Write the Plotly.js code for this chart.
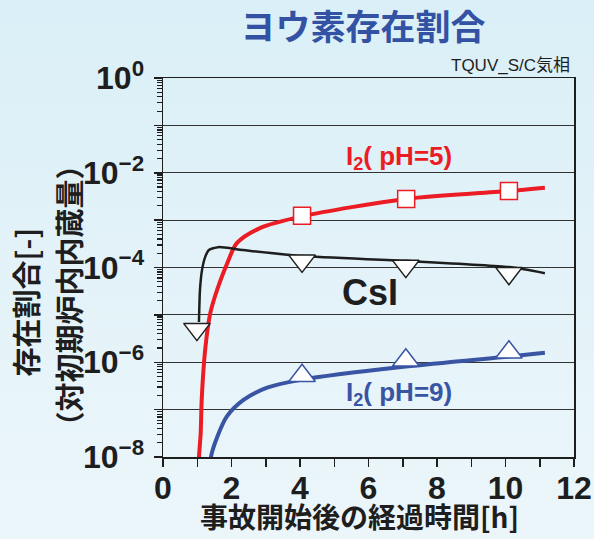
<!DOCTYPE html>
<html>
<head>
<meta charset="utf-8">
<script src="https://cdn.plot.ly/plotly-3.0.1.min.js"></script>
<style>
html,body{margin:0;padding:0;}
body{width:594px;height:539px;background:linear-gradient(#daeff7,#ecf6fa);}
#chart{width:594px;height:539px;}
</style>
</head>
<body>
<div id="chart"></div>
<script>
// ---- data ----
const i2ph5X = [1.03, 1.05, 1.10, 1.13, 1.23, 1.37, 1.46, 1.61, 1.87, 2.16, 2.83, 4.06, 7.1, 10.1, 11.15];
const i2ph5Y = [5e-9, 1.0e-8, 3.2e-8, 1.6e-7, 1.8e-6, 1.0e-5, 1.8e-5, 3.9e-5, 1.2e-4, 3.3e-4, 6.8e-4, 1.2e-3, 2.8e-3, 4.1e-3, 4.8e-3];
const i2ph5MarkX = [4.06, 7.1, 10.1];
const i2ph5MarkY = [1.23e-3, 2.8e-3, 4.1e-3];

const csiX = [1.05, 1.08, 1.14, 1.23, 1.34, 1.61, 2.34, 4.06, 7.09, 10.1, 11.15];
const csiY = [7.1e-6, 3.4e-5, 8.9e-5, 1.66e-4, 2.34e-4, 2.69e-4, 2.34e-4, 1.74e-4, 1.38e-4, 1.02e-4, 7.6e-5];
const csiMarkX = [0.99, 4.06, 7.09, 10.1];
const csiMarkY = [5.0e-6, 1.38e-4, 1.07e-4, 7.6e-5];

const i2ph9X = [1.38, 1.40, 1.58, 1.86, 2.34, 3.04, 4.06, 7.09, 10.1, 11.15];
const i2ph9Y = [5e-9, 1.0e-8, 2.6e-8, 7.1e-8, 1.58e-7, 2.9e-7, 4.3e-7, 8.1e-7, 1.32e-6, 1.58e-6];
const i2ph9MarkX = [4.06, 7.09, 10.1];
const i2ph9MarkY = [5.2e-7, 1.10e-6, 1.62e-6];

const yTickVals = [1e-8, 1e-6, 1e-4, 1e-2, 1e0];
const yTickText = ['10<sup>−8</sup>', '10<sup>−6</sup>', '10<sup>−4</sup>', '10<sup>−2</sup>', '10<sup>0</sup>'];
const yOddDecades = [1e-7, 1e-5, 1e-3, 1e-1];
const xTickVals = [0, 2, 4, 6, 8, 10, 12];

const titleText = 'ヨウ素存在割合';
const subTitleText = 'TQUV_S/C気相';
const xTitleText = '事故開始後の経過時間[h]';
const yTitleLine1 = '存在割合[-]';
const yTitleLine2 = '（対初期炉内内蔵量）';
const labelPh5 = 'I<sub>2</sub>( pH=5)';
const labelCsI = 'CsI';
const labelPh9 = 'I<sub>2</sub>( pH=9)';

// ---- styling ----
const NUM_FONT = '"Liberation Sans", Arial, sans-serif';
const JP_FONT = '"Noto Sans CJK JP", "Noto Sans", sans-serif';
const RED = '#ec1c24';
const BLUE = '#3a54a4';
const BLACK = '#1e1e1e';
const GRID = '#333333';

const traces = [
  {x: i2ph5X, y: i2ph5Y, mode: 'lines', line: {color: RED, width: 4, shape: 'spline', smoothing: 0.8}, hoverinfo: 'skip'},
  {x: i2ph9X, y: i2ph9Y, mode: 'lines', line: {color: BLUE, width: 4, shape: 'spline', smoothing: 0.8}, hoverinfo: 'skip'},
  {x: csiX, y: csiY, mode: 'lines', line: {color: BLACK, width: 2.5, shape: 'spline', smoothing: 0.6}, hoverinfo: 'skip'},
  {x: i2ph5MarkX, y: i2ph5MarkY, mode: 'markers', marker: {symbol: 'square', size: 17, color: 'white', line: {color: RED, width: 1.5}}},
  {x: i2ph9MarkX, y: i2ph9MarkY, mode: 'markers', marker: {symbol: 'triangle-up', size: 23, color: 'white', line: {color: BLUE, width: 1.5}}},
  {x: csiMarkX, y: csiMarkY, yaxis: 'y2', mode: 'markers', marker: {symbol: 'triangle-down', size: 23, color: 'white', line: {color: BLACK, width: 1.5}}}
];

const layout = {
  width: 594, height: 539,
  margin: {l: 163, r: 20, t: 78, b: 82},
  paper_bgcolor: 'rgba(0,0,0,0)',
  plot_bgcolor: 'rgba(0,0,0,0)',
  showlegend: false,
  title: {text: titleText, x: 0.611, xanchor: 'center', y: 0.948, yanchor: 'middle',
          font: {family: JP_FONT, size: 35, color: '#3352a3', weight: 'bold'}},
  xaxis: {
    range: [0, 12], tickmode: 'array', tickvals: xTickVals,
    ticks: 'outside', ticklen: 8, tickwidth: 1.5, tickcolor: BLACK, ticklabelstandoff: -6,
    minor: {dtick: 1, ticks: 'outside', ticklen: 8, tickwidth: 1.5, tickcolor: BLACK, showgrid: false},
    showline: true, linecolor: BLACK, linewidth: 1.5, mirror: true,
    showgrid: false, zeroline: false,
    tickfont: {family: NUM_FONT, size: 32, color: BLACK, weight: 'bold'}
  },
  yaxis: {
    type: 'log', range: [-8, 0], tickmode: 'array', tickvals: yTickVals, ticktext: yTickText,
    ticks: 'outside', ticklen: 8, tickwidth: 1.5, tickcolor: BLACK, ticklabelstandoff: 3,
    minor: {dtick: 'D1', ticks: 'outside', ticklen: 5, tickwidth: 1.2, tickcolor: BLACK, showgrid: false},
    showline: true, linecolor: BLACK, linewidth: 1.5, mirror: true,
    showgrid: true, gridcolor: GRID, gridwidth: 1, zeroline: false,
    tickfont: {family: NUM_FONT, size: 32, color: BLACK, weight: 'bold'}
  },
  yaxis2: {
    type: 'log', range: [-8, 0], overlaying: 'y', side: 'left',
    tickmode: 'array', tickvals: yOddDecades, showticklabels: false,
    ticks: 'outside', ticklen: 8, tickwidth: 1.5, tickcolor: BLACK,
    showline: false, showgrid: true, gridcolor: GRID, gridwidth: 1, zeroline: false
  },
  annotations: [
    {xref: 'paper', yref: 'paper', x: 0.995, y: 1.034, xanchor: 'right', yanchor: 'middle', showarrow: false,
     text: subTitleText, font: {family: '"Liberation Sans", "Noto Sans CJK JP", sans-serif', size: 17, color: BLACK}},
    {xref: 'paper', yref: 'paper', x: 0.479, y: -0.214, xanchor: 'center', yanchor: 'bottom', showarrow: false,
     text: xTitleText, font: {family: JP_FONT, size: 28, color: BLACK, weight: 'bold'}},
    {xref: 'paper', yref: 'paper', x: -0.336, y: 0.41, xanchor: 'center', yanchor: 'middle', showarrow: false, textangle: -90,
     text: yTitleLine1, font: {family: JP_FONT, size: 29, color: BLACK, weight: 'bold'}},
    {xref: 'paper', yref: 'paper', x: -0.232, y: 0.425, xanchor: 'center', yanchor: 'middle', showarrow: false, textangle: -90,
     text: yTitleLine2, font: {family: JP_FONT, size: 29, color: BLACK, weight: 'bold'}},
    {xref: 'x', yref: 'y', x: 6.89, y: -1.67, xanchor: 'center', yanchor: 'middle', showarrow: false,
     text: labelPh5, font: {family: NUM_FONT, size: 26, color: RED, weight: 'bold'}},
    {xref: 'x', yref: 'y', x: 6.04, y: -4.52, xanchor: 'center', yanchor: 'middle', showarrow: false,
     text: labelCsI, font: {family: NUM_FONT, size: 36, color: BLACK, weight: 'bold'}},
    {xref: 'x', yref: 'y', x: 6.89, y: -6.65, xanchor: 'center', yanchor: 'middle', showarrow: false,
     text: labelPh9, font: {family: NUM_FONT, size: 26, color: BLUE, weight: 'bold'}}
  ]
};

Plotly.newPlot('chart', traces, layout, {displayModeBar: false, staticPlot: true});
</script>
</body>
</html>
